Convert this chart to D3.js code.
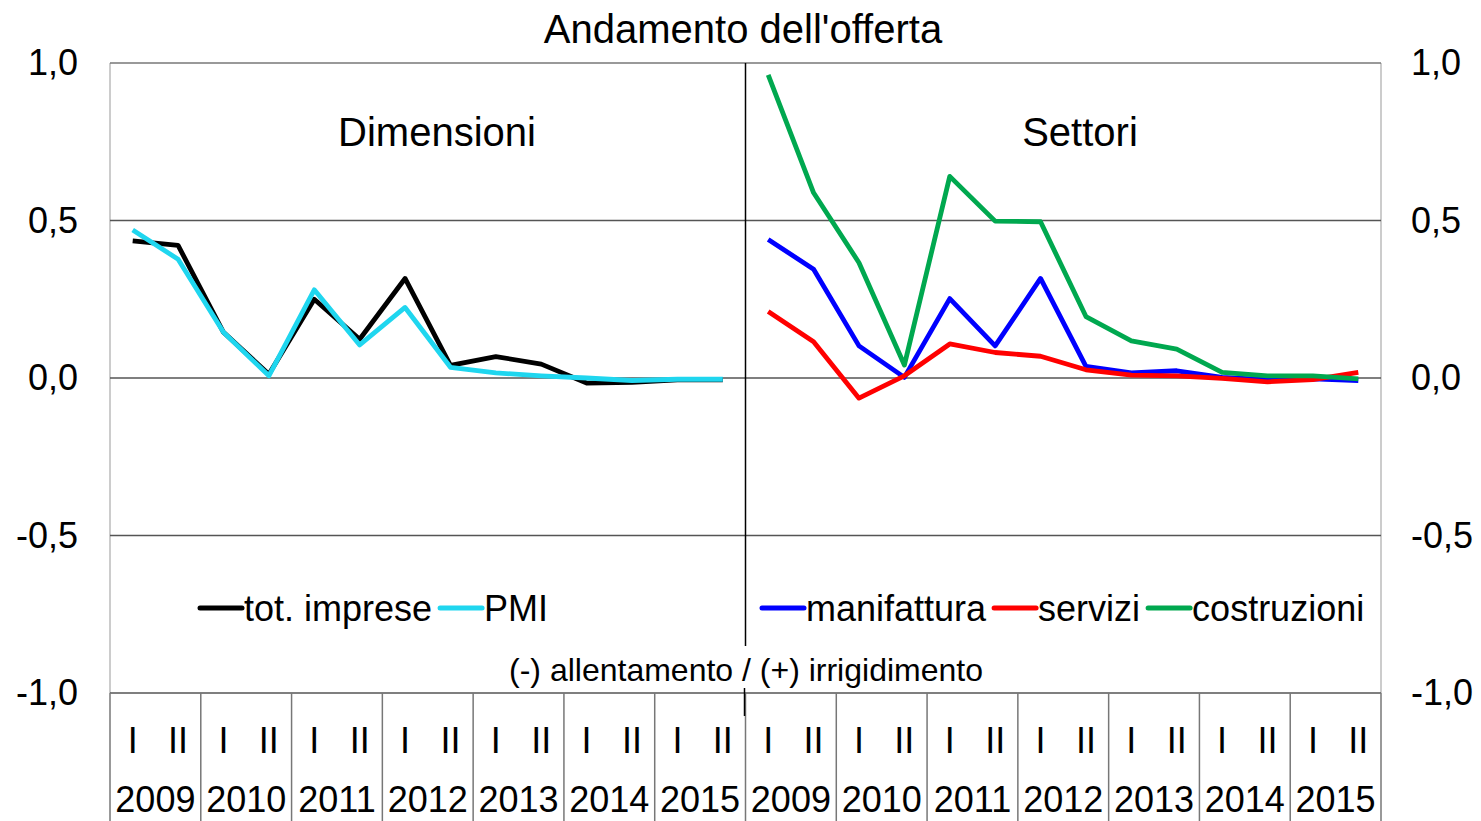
<!DOCTYPE html>
<html>
<head>
<meta charset="utf-8">
<script src="https://cdn.jsdelivr.net/npm/d3@7"></script>
<style>
  body { margin: 0; background: #fff; }
  text { font-family: "Liberation Sans", Arial, sans-serif; fill: #000; }
</style>
</head>
<body>
<div id="chart"></div>
<script>
// data
var years = ["2009", "2010", "2011", "2012", "2013", "2014", "2015"];
var halves = ["I", "II"];
var panels = ["Dimensioni", "Settori"];
var yTicks = [1.0, 0.5, 0.0, -0.5, -1.0];

var totImprese = [0.435, 0.421, 0.145, 0.012, 0.25, 0.123, 0.316, 0.04, 0.068, 0.044, -0.016, -0.014, -0.006, -0.006];
var pmi        = [0.47, 0.377, 0.145, 0.007, 0.28, 0.105, 0.224, 0.034, 0.016, 0.007, 0.0, -0.008, -0.004, -0.004];
var manifattura = [0.44, 0.345, 0.102, 0.002, 0.252, 0.102, 0.316, 0.037, 0.016, 0.023, 0.002, -0.005, -0.003, -0.008];
var servizi     = [0.211, 0.115, -0.064, 0.007, 0.108, 0.081, 0.069, 0.026, 0.009, 0.007, -0.001, -0.012, -0.005, 0.018];
var costruzioni = [0.962, 0.588, 0.366, 0.041, 0.64, 0.498, 0.496, 0.195, 0.118, 0.092, 0.018, 0.007, 0.007, -0.003];

var series = [
  { panel: 0, name: "tot. imprese", color: "#000000", values: totImprese },
  { panel: 0, name: "PMI", color: "#1fd6ef", values: pmi },
  { panel: 1, name: "manifattura", color: "#0000ff", values: manifattura },
  { panel: 1, name: "servizi", color: "#ff0000", values: servizi },
  { panel: 1, name: "costruzioni", color: "#00a84f", values: costruzioni }
];

var W = 1481, H = 821;
var plotL = 110, plotR = 1381, plotT = 63, plotB = 693;

// one key per half-year, per panel
var keys = [];
panels.forEach(function(p, pi) {
  years.forEach(function(yr) {
    halves.forEach(function(h) { keys.push(pi + "-" + yr + "-" + h); });
  });
});
var perPanel = years.length * halves.length;

var x = d3.scaleBand().domain(keys).range([plotL, plotR]);
var yearX = d3.scaleBand()
  .domain(d3.merge(panels.map(function(p, pi) { return years.map(function(yr) { return pi + "-" + yr; }); })))
  .range([plotL, plotR]);
var y = d3.scaleLinear().domain([-1, 1]).range([plotB, plotT]);

var fmt = function(v) { return d3.format(".1f")(v).replace(".", ",").replace("−", "-"); };

var svg = d3.select("#chart").append("svg")
  .attr("width", W)
  .attr("height", H);

// title
svg.append("text")
  .attr("x", 743).attr("y", 43)
  .attr("text-anchor", "middle")
  .style("font-size", "40px")
  .text("Andamento dell'offerta");

// plot frame
svg.append("line").attr("x1", plotL).attr("x2", plotL).attr("y1", plotT).attr("y2", plotB)
  .style("stroke", "#bbb").style("stroke-width", 1.5);
svg.append("line").attr("x1", plotR).attr("x2", plotR).attr("y1", plotT).attr("y2", plotB)
  .style("stroke", "#bbb").style("stroke-width", 1.5);

// grid lines
svg.append("g").selectAll("line")
  .data(yTicks)
  .enter().append("line")
  .attr("x1", plotL).attr("x2", plotR)
  .attr("y1", function(d) { return y(d); })
  .attr("y2", function(d) { return y(d); })
  .style("stroke", function(d) { return d === 1 ? "#777" : "#555"; })
  .style("stroke-width", 1.5);

// y axes, both sides
var axL = svg.append("g")
  .attr("transform", "translate(" + plotL + ",0)")
  .call(d3.axisLeft(y).tickValues(yTicks).tickFormat(fmt).tickSize(0).tickPadding(32));
var axR = svg.append("g")
  .attr("transform", "translate(" + plotR + ",0)")
  .call(d3.axisRight(y).tickValues(yTicks).tickFormat(fmt).tickSize(0).tickPadding(30));
[axL, axR].forEach(function(a) {
  a.select(".domain").remove();
  a.selectAll("text").style("font-size", "36px").style("font-family", "'Liberation Sans', Arial, sans-serif");
});

// category table below the plot
svg.append("g").selectAll("line")
  .data(yearX.domain())
  .enter().append("line")
  .attr("x1", function(d) { return yearX(d); })
  .attr("x2", function(d) { return yearX(d); })
  .attr("y1", plotB).attr("y2", H)
  .style("stroke", "#777").style("stroke-width", 1.5);
svg.append("line")
  .attr("x1", plotR).attr("x2", plotR).attr("y1", plotB).attr("y2", H)
  .style("stroke", "#777").style("stroke-width", 1.5);

svg.append("g").selectAll("text")
  .data(keys)
  .enter().append("text")
  .attr("x", function(d) { return x(d) + x.bandwidth() / 2; })
  .attr("y", 753)
  .attr("text-anchor", "middle")
  .style("font-size", "36px")
  .text(function(d) { return d.split("-")[2]; });

svg.append("g").selectAll("text")
  .data(yearX.domain())
  .enter().append("text")
  .attr("x", function(d) { return yearX(d) + yearX.bandwidth() / 2; })
  .attr("y", 812)
  .attr("text-anchor", "middle")
  .style("font-size", "36px")
  .text(function(d) { return d.split("-")[1]; });

// panel divider
var mid = x(keys[perPanel]);
svg.append("line").attr("x1", mid).attr("x2", mid).attr("y1", plotT).attr("y2", 646)
  .style("stroke", "#000").style("stroke-width", 1.5);
svg.append("line").attr("x1", mid - 1).attr("x2", mid - 1).attr("y1", 688).attr("y2", 716)
  .style("stroke", "#000").style("stroke-width", 1.5);

// panel titles
var panelTitleX = [437, 1080];
panels.forEach(function(p, pi) {
  svg.append("text")
    .attr("x", panelTitleX[pi]).attr("y", 146)
    .attr("text-anchor", "middle")
    .style("font-size", "40px")
    .text(p);
});

// lines
var line = d3.line()
  .x(function(d) { return x(d.key) + x.bandwidth() / 2; })
  .y(function(d) { return y(d.v); });

series.forEach(function(s) {
  var pts = s.values.map(function(v, i) { return { key: keys[s.panel * perPanel + i], v: v }; });
  svg.append("path")
    .datum(pts)
    .attr("d", line)
    .style("fill", "none")
    .style("stroke", s.color)
    .style("stroke-width", 4.8)
    .style("stroke-linejoin", "round");
});

// legends
var legendStart = [198, 760];
panels.forEach(function(p, pi) {
  var g = svg.append("g").attr("transform", "translate(" + legendStart[pi] + ",608)");
  var cx = 0;
  series.filter(function(s) { return s.panel === pi; }).forEach(function(s) {
    g.append("line")
      .attr("x1", cx + 2).attr("x2", cx + 44)
      .attr("y1", 0).attr("y2", 0)
      .style("stroke", s.color).style("stroke-width", 5)
      .style("stroke-linecap", "round");
    var t = g.append("text")
      .attr("x", cx + 46).attr("y", 13)
      .style("font-size", "36px")
      .text(s.name);
    cx += 46 + t.node().getComputedTextLength() + 6;
  });
});

// note
svg.append("text")
  .attr("x", 746).attr("y", 681)
  .attr("text-anchor", "middle")
  .style("font-size", "32px")
  .text("(-) allentamento / (+) irrigidimento");
</script>
</body>
</html>
